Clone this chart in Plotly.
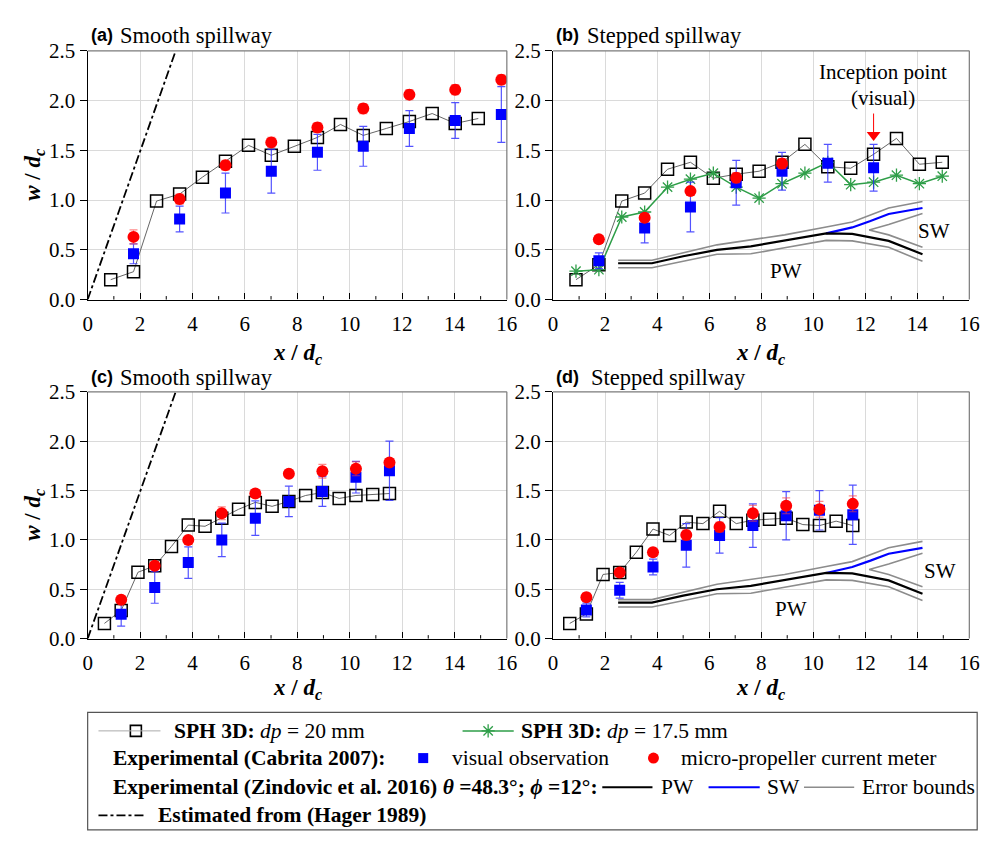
import plotly.graph_objects as go

# ---------------- data ----------------
# Panel (a) smooth spillway
a_sph_x = [0.88, 1.75, 2.63, 3.51, 4.38, 5.26, 6.14, 7.01, 7.89, 8.77, 9.65, 10.52, 11.40, 12.28, 13.15, 14.03, 14.91]
a_sph_y = [0.20, 0.28, 0.99, 1.06, 1.23, 1.39, 1.55, 1.45, 1.54, 1.63, 1.76, 1.65, 1.72, 1.79, 1.87, 1.77, 1.82]
a_exp_x = [1.75, 3.51, 5.26, 7.01, 8.77, 10.52, 12.28, 14.03, 15.79]
a_vis_y = [0.46, 0.81, 1.07, 1.29, 1.48, 1.54, 1.72, 1.80, 1.86]
a_vis_err = [0.10, 0.13, 0.20, 0.22, 0.18, 0.20, 0.18, 0.18, 0.28]
a_mpc_y = [0.63, 1.01, 1.35, 1.58, 1.73, 1.92, 2.06, 2.11, 2.21]
a_mpc_err = [0.07, 0.05, 0.05, 0.05, 0.05, 0.05, 0.05, 0.05, 0.05]

# Panel (b) stepped spillway
b_sph_x = [0.88, 1.76, 2.64, 3.52, 4.40, 5.28, 6.16, 7.04, 7.92, 8.80, 9.68, 10.56, 11.44, 12.32, 13.20, 14.08, 14.96]
b_sph_y = [0.20, 0.35, 0.99, 1.07, 1.31, 1.38, 1.22, 1.26, 1.29, 1.38, 1.56, 1.335, 1.32, 1.46, 1.62, 1.36, 1.38]
b_sph175_y = [0.285, 0.30, 0.83, 0.88, 1.13, 1.21, 1.27, 1.13, 1.02, 1.165, 1.27, 1.38, 1.155, 1.18, 1.25, 1.165, 1.24]
b_vis_x = [1.76, 3.52, 5.28, 7.04, 8.80, 10.56, 12.32]
b_vis_y = [0.39, 0.72, 0.93, 1.175, 1.29, 1.37, 1.325]
b_vis_err = [0.08, 0.15, 0.25, 0.225, 0.19, 0.19, 0.235]
b_mpc_x = [1.76, 3.52, 5.28, 7.04, 8.80]
b_mpc_y = [0.605, 0.823, 1.09, 1.225, 1.367]
b_mpc_err = [0.04, 0.04, 0.04, 0.05, 0.05]
incep_x = [12.32, 12.32]
incep_y = [1.87, 1.68]
incep_tip_x = [12.32]
incep_tip_y = [1.655]

# Panel (c) smooth spillway
c_sph_x = [0.64, 1.28, 1.92, 2.56, 3.20, 3.84, 4.48, 5.12, 5.76, 6.40, 7.04, 7.68, 8.32, 8.96, 9.60, 10.24, 10.88, 11.52]
c_sph_y = [0.154, 0.285, 0.672, 0.737, 0.934, 1.15, 1.138, 1.22, 1.31, 1.38, 1.34, 1.39, 1.45, 1.48, 1.42, 1.45, 1.46, 1.47]
c_exp_x = [1.28, 2.56, 3.84, 5.12, 6.40, 7.68, 8.96, 10.24, 11.52]
c_vis_y = [0.246, 0.518, 0.77, 1.0, 1.22, 1.39, 1.49, 1.635, 1.70]
c_vis_err = [0.12, 0.16, 0.16, 0.17, 0.175, 0.155, 0.15, 0.16, 0.30]
c_mpc_y = [0.393, 0.737, 1.0, 1.27, 1.47, 1.67, 1.695, 1.72, 1.785]
c_mpc_err = [0.03, 0.03, 0.03, 0.065, 0.03, 0.03, 0.07, 0.07, 0.03]

# Panel (d) stepped spillway
d_sph_x = [0.64, 1.28, 1.92, 2.56, 3.20, 3.84, 4.48, 5.12, 5.76, 6.40, 7.04, 7.68, 8.32, 8.96, 9.60, 10.24, 10.88, 11.52]
d_sph_y = [0.154, 0.25, 0.65, 0.67, 0.875, 1.11, 1.045, 1.18, 1.165, 1.29, 1.165, 1.20, 1.21, 1.22, 1.155, 1.145, 1.19, 1.145]
d_exp_x = [1.28, 2.56, 3.84, 5.12, 6.40, 7.68, 8.96, 10.24, 11.52]
d_vis_y = [0.29, 0.49, 0.725, 0.945, 1.045, 1.145, 1.245, 1.30, 1.255]
d_vis_err = [0.07, 0.08, 0.08, 0.22, 0.18, 0.22, 0.245, 0.20, 0.30]
d_mpc_y = [0.42, 0.67, 0.875, 1.05, 1.13, 1.27, 1.345, 1.31, 1.365]
d_mpc_err = [0.04, 0.04, 0.04, 0.05, 0.05, 0.08, 0.08, 0.08, 0.08]

# Hager (1989) estimate
hager_x = [0.0, 3.36]
hager_y = [0.0, 2.5]

# Zindovic et al. 2016 (stepped)
pw_x = [2.5, 3.8, 5.0, 6.3, 7.6, 8.9, 10.2, 10.5, 11.5, 12.9, 14.2]
pw_y = [0.365, 0.365, 0.435, 0.50, 0.535, 0.59, 0.65, 0.665, 0.66, 0.59, 0.455]
sw_x = [10.5, 11.5, 12.2, 12.9, 14.2]
sw_y = [0.665, 0.725, 0.79, 0.86, 0.92]
eb_up_x = [2.5, 3.8, 6.3, 7.6, 8.9, 10.5, 11.5, 12.9, 14.2]
eb_up_y = [0.395, 0.395, 0.55, 0.60, 0.65, 0.73, 0.78, 0.92, 0.985]
eb_lo_x = [2.5, 3.8, 6.3, 7.6, 8.9, 10.5, 11.5, 12.9, 14.2]
eb_lo_y = [0.32, 0.32, 0.455, 0.46, 0.52, 0.595, 0.59, 0.525, 0.385]
eb_mid_x = [14.2, 12.9, 12.15, 12.9, 14.2]
eb_mid_y = [0.525, 0.65, 0.70, 0.755, 0.865]

x_ticks = [0, 2, 4, 6, 8, 10, 12, 14, 16]
y_ticks = [0.0, 0.5, 1.0, 1.5, 2.0, 2.5]

# ---------------- styles ----------------
SERIF = "Liberation Serif"
SANS = "Liberation Sans"
W, H = 1000, 841
BLUE = "#0000FF"
RED = "#FF0000"
GREEN = "#2E9E48"
GREY = "#8C8C8C"

fig = go.Figure()

def add(tr, xa, ya):
    tr.update(xaxis=xa, yaxis=ya, showlegend=False, hoverinfo="skip")
    fig.add_trace(tr)

def sph(x, y, xa, ya):
    add(go.Scatter(x=x, y=y, mode="lines+markers",
                   line=dict(color="#555555", width=0.9),
                   marker=dict(symbol="square-open", size=12, color="black", line=dict(width=1.5))), xa, ya)

def vis(x, y, e, xa, ya):
    add(go.Scatter(x=x, y=y, mode="markers",
                   marker=dict(symbol="square", size=11, color=BLUE),
                   error_y=dict(type="data", array=e, color="rgba(40,40,255,0.8)", thickness=1.2, width=4)), xa, ya)

def mpc(x, y, e, xa, ya):
    add(go.Scatter(x=x, y=y, mode="markers",
                   marker=dict(symbol="circle", size=12, color=RED),
                   error_y=dict(type="data", array=e, color="rgba(255,60,60,0.6)", thickness=1.2, width=4)), xa, ya)

def hager(xa, ya):
    add(go.Scatter(x=hager_x, y=hager_y, mode="lines",
                   line=dict(color="black", width=1.8, dash="dashdot")), xa, ya)

def zindovic(xa, ya):
    for xx, yy in [(eb_up_x, eb_up_y), (eb_lo_x, eb_lo_y), (eb_mid_x, eb_mid_y)]:
        add(go.Scatter(x=xx, y=yy, mode="lines", line=dict(color=GREY, width=1.6)), xa, ya)
    add(go.Scatter(x=sw_x, y=sw_y, mode="lines", line=dict(color=BLUE, width=2.2)), xa, ya)
    add(go.Scatter(x=pw_x, y=pw_y, mode="lines", line=dict(color="black", width=2.2)), xa, ya)

# Panel a
hager("x", "y")
sph(a_sph_x, a_sph_y, "x", "y")
vis(a_exp_x, a_vis_y, a_vis_err, "x", "y")
mpc(a_exp_x, a_mpc_y, a_mpc_err, "x", "y")

# Panel b
zindovic("x2", "y2")
sph(b_sph_x, b_sph_y, "x2", "y2")
add(go.Scatter(x=b_sph_x, y=b_sph175_y, mode="lines+markers",
               line=dict(color=GREEN, width=1.5),
               marker=dict(symbol="asterisk-open", size=11, color=GREEN, line=dict(width=1.3, color=GREEN))), "x2", "y2")
vis(b_vis_x, b_vis_y, b_vis_err, "x2", "y2")
mpc(b_mpc_x, b_mpc_y, b_mpc_err, "x2", "y2")
add(go.Scatter(x=incep_x, y=incep_y, mode="lines", line=dict(color=RED, width=1)), "x2", "y2")
add(go.Scatter(x=incep_tip_x, y=incep_tip_y, mode="markers",
               marker=dict(symbol="triangle-down", size=12, color=RED)), "x2", "y2")

# Panel c
hager("x3", "y3")
sph(c_sph_x, c_sph_y, "x3", "y3")
vis(c_exp_x, c_vis_y, c_vis_err, "x3", "y3")
mpc(c_exp_x, c_mpc_y, c_mpc_err, "x3", "y3")

# Panel d
zindovic("x4", "y4")
sph(d_sph_x, d_sph_y, "x4", "y4")
vis(d_exp_x, d_vis_y, d_vis_err, "x4", "y4")
mpc(d_exp_x, d_mpc_y, d_mpc_err, "x4", "y4")

# ---------------- axes ----------------
def px_x(p):
    return p / W

def px_y(p):
    return 1 - p / H

x_dom_left = [px_x(84), px_x(510)]
x_dom_right = [px_x(557), px_x(980)]
y_dom_top = [px_y(296), px_y(40)]
y_dom_bot = [px_y(645), px_y(391)]

def xaxis(dom, anchor):
    return dict(domain=dom, anchor=anchor, range=[x_ticks[0], x_ticks[-1]],
                tickmode="linear", tick0=x_ticks[0], dtick=x_ticks[1] - x_ticks[0],
                showgrid=True, gridcolor="#DADADA", gridwidth=1,
                showline=True, linecolor="black", linewidth=1.2,
                ticks="inside", ticklen=6, tickcolor="black", ticklabelstandoff=5,
                tickfont=dict(family=SERIF, size=21, color="black"), zeroline=False)

def yaxis(dom, anchor):
    return dict(domain=dom, anchor=anchor, range=[y_ticks[0], y_ticks[-1]],
                tickmode="linear", tick0=y_ticks[0], dtick=y_ticks[1] - y_ticks[0], tickformat=".1f",
                showgrid=True, gridcolor="#DADADA", gridwidth=1,
                showline=True, linecolor="black", linewidth=1.2,
                ticks="outside", ticklen=7, tickcolor="black",
                tickfont=dict(family=SERIF, size=21, color="black"), zeroline=False)

fig.update_layout(
    width=W, height=H, margin=dict(l=0, r=0, t=0, b=0),
    paper_bgcolor="white", plot_bgcolor="rgba(0,0,0,0)", showlegend=False,
    xaxis=xaxis(x_dom_left, "y"), yaxis=yaxis(y_dom_top, "x"),
    xaxis2=xaxis(x_dom_right, "y2"), yaxis2=yaxis(y_dom_top, "x2"),
    xaxis3=xaxis(x_dom_left, "y3"), yaxis3=yaxis(y_dom_bot, "x3"),
    xaxis4=xaxis(x_dom_right, "y4"), yaxis4=yaxis(y_dom_bot, "x4"),
    xaxis5=dict(domain=[0, 1], anchor="y5", range=[0, W], visible=False, fixedrange=True),
    yaxis5=dict(domain=[0, 1], anchor="x5", range=[H, 0], visible=False, fixedrange=True),
)

shapes = []
for xa, ya in [("x", "y"), ("x2", "y2"), ("x3", "y3"), ("x4", "y4")]:
    shapes.append(dict(type="line", xref=f"{xa} domain", yref=f"{ya} domain", x0=0, x1=1, y0=1, y1=1,
                       line=dict(color="#7A7A7A", width=1.2), layer="above"))
    shapes.append(dict(type="line", xref=f"{xa} domain", yref=f"{ya} domain", x0=1, x1=1, y0=0, y1=1,
                       line=dict(color="#7A7A7A", width=1.2), layer="above"))
    # minor ticks at odd x positions (inside)
    for v in range(x_ticks[0] + 1, x_ticks[-1], 2):
        shapes.append(dict(type="line", xref=xa, yref=f"{ya} domain", x0=v, x1=v, y0=0, y1=0.014,
                           line=dict(color="black", width=1), layer="above"))

# legend box
shapes.append(dict(type="rect", xref="paper", yref="paper", x0=px_x(84), x1=px_x(988),
                   y0=px_y(842), y1=px_y(721), line=dict(color="#555555", width=1.2)))

# legend line samples (layout positions, in pixels)
def lline(x0, x1, y, color, width, dash="solid"):
    shapes.append(dict(type="line", xref="paper", yref="paper", x0=px_x(x0), x1=px_x(x1),
                       y0=px_y(y), y1=px_y(y), line=dict(color=color, width=width, dash=dash)))

lline(95, 158, 740, "#AAAAAA", 1)
lline(465, 517, 740, GREEN, 1.5)
lline(607, 658, 798, "black", 2.2)
lline(715, 767, 798, BLUE, 2.2)
lline(812, 863, 798, GREY, 1.6)
lline(95, 143, 827, "black", 1.8, "dashdot")
fig.update_layout(shapes=shapes)

# legend markers on an overlay pixel axis
add(go.Scatter(x=[133], y=[740], mode="markers",
               marker=dict(symbol="square-open", size=11, color="black", line=dict(width=1.6))), "x5", "y5")
add(go.Scatter(x=[491], y=[740], mode="markers",
               marker=dict(symbol="asterisk-open", size=11, color=GREEN, line=dict(width=1.3, color=GREEN))), "x5", "y5")
add(go.Scatter(x=[425], y=[768], mode="markers", marker=dict(symbol="square", size=10, color=BLUE)), "x5", "y5")
add(go.Scatter(x=[659], y=[768], mode="markers", marker=dict(symbol="circle", size=11, color=RED)), "x5", "y5")

ann = []

def text(x, y, t, size=21.5, family=SERIF, xanchor="left", angle=0):
    ann.append(dict(x=px_x(x), y=px_y(y), xref="paper", yref="paper", text=t, showarrow=False,
                    xanchor=xanchor, yanchor="middle", textangle=angle,
                    font=dict(family=family, size=size, color="black")))

# legend texts
text(170, 740, "<b>SPH 3D:</b> <i>dp</i> = 20 mm")
text(522, 740, "<b>SPH 3D:</b> <i>dp</i> = 17.5 mm")
text(108, 768, "<b>Experimental (Cabrita 2007):</b>")
text(452, 768, "visual observation")
text(685, 768, "micro-propeller current meter")
text(108, 798, "<b>Experimental (Zindovic et al. 2016) <i>θ</i> =48.3°; <i>ϕ</i> =12°:</b>")
text(665, 798, "PW")
text(772, 798, "SW")
text(869, 798, "Error bounds")
text(153, 827, "<b>Estimated from (Hager 1989)</b>")

# panel titles
text(85, 24, "<b>(a)</b>", size=18, family=SANS)
text(115, 24, "Smooth spillway", size=22.5)
text(558, 24, "<b>(b)</b>", size=18, family=SANS)
text(589, 24, "Stepped spillway", size=22.5)
text(85, 376, "<b>(c)</b>", size=18, family=SANS)
text(115, 376, "Smooth spillway", size=22.5)
text(558, 376, "<b>(d)</b>", size=18, family=SANS)
text(593, 376, "Stepped spillway", size=22.5)

# axis titles
for cx, cy in [(297, 352), (768, 352), (297, 697), (768, 697)]:
    text(cx, cy, "<b><i>x</i> / <i>d<sub>c</sub></i></b>", size=23, xanchor="center")
for cy in [168, 518]:
    text(30, cy, "<b><i>w</i> / <i>d<sub>c</sub></i></b>", size=23, xanchor="center", angle=-90)

# in-plot labels
text(892, 62, "Inception point", size=21, xanchor="center")
text(892, 89, "(visual)", size=21, xanchor="center")

for xa, ya, pwp, swp in [("x2", "y2", (8.96, 0.29), (14.64, 0.69)), ("x4", "y4", (9.15, 0.30), (14.88, 0.68))]:
    ann.append(dict(x=pwp[0], y=pwp[1], xref=xa, yref=ya, text="PW", showarrow=False,
                    font=dict(family=SERIF, size=21, color="black")))
    ann.append(dict(x=swp[0], y=swp[1], xref=xa, yref=ya, text="SW", showarrow=False,
                    font=dict(family=SERIF, size=21, color="black")))

fig.update_layout(annotations=ann)
fig.write_html("out.html")
